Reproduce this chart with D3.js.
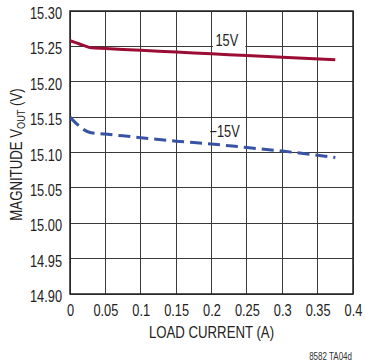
<!DOCTYPE html>
<html>
<head>
<meta charset="utf-8">
<script src="https://cdn.jsdelivr.net/npm/d3@7"></script>
<style>
  html, body { margin: 0; padding: 0; background: #fff; }
  svg { display: block; font-family: "Liberation Sans", Arial, sans-serif; }
  .cond { transform-box: fill-box; }
</style>
</head>
<body>
<svg id="chart" width="365" height="362"></svg>
<script>
// ---- data ----
const xTicks = [0, 0.05, 0.1, 0.15, 0.2, 0.25, 0.3, 0.35, 0.4];
const xTickLabels = ["0", "0.05", "0.1", "0.15", "0.2", "0.25", "0.3", "0.35", "0.4"];
const yTicks = [14.90, 14.95, 15.00, 15.05, 15.10, 15.15, 15.20, 15.25, 15.30];
const yTickLabels = ["14.90", "14.95", "15.00", "15.05", "15.10", "15.15", "15.20", "15.25", "15.30"];

const posCurrent = [0, 0.01, 0.02, 0.03, 0.05, 0.1, 0.15, 0.2, 0.25, 0.3, 0.375];
const posVout    = [15.258, 15.2545, 15.251, 15.248, 15.247, 15.2445, 15.242, 15.2395, 15.237, 15.2345, 15.231];

const negCurrent = [0, 0.01, 0.02, 0.03, 0.05, 0.1, 0.15, 0.2, 0.25, 0.3, 0.375];
const negVout    = [15.150, 15.140, 15.132, 15.128, 15.126, 15.121, 15.116, 15.112, 15.107, 15.102, 15.093];

const seriesLabels = ["15V", "\u221215V"];

// ---- layout ----
const svg = d3.select("#chart");
const pL = 70, pR = 353, pT = 11, pB = 294;
const textColor = "#222";
const squeeze = 0.8;

function condense(sel, origin) {
  sel.classed("cond", true)
    .style("transform", `scaleX(${squeeze})`)
    .style("transform-origin", origin);
  return sel;
}

const x = d3.scaleLinear().domain([0, 0.4]).range([pL, pR]);
const y = d3.scaleLinear().domain([14.90, 15.30]).range([pB, pT]);

// grid
const grid = svg.append("g").attr("stroke", "#3a3a3a").attr("stroke-width", 1).attr("shape-rendering", "crispEdges");
xTicks.forEach(t => grid.append("line").attr("x1", x(t)).attr("x2", x(t)).attr("y1", pT).attr("y2", pB));
yTicks.forEach(t => grid.append("line").attr("x1", pL).attr("x2", pR).attr("y1", y(t)).attr("y2", y(t)));
svg.append("rect").attr("x", pL).attr("y", pT).attr("width", pR - pL).attr("height", pB - pT)
  .attr("fill", "none").attr("stroke", "#222").attr("stroke-width", 1.5);

// axes (labels only, via d3 axes)
const xAxis = d3.axisBottom(x).tickValues(xTicks).tickFormat((d, i) => xTickLabels[i]).tickSize(0).tickPadding(11);
const gx = svg.append("g").attr("transform", `translate(0,${pB})`).call(xAxis);
gx.select(".domain").remove();
gx.selectAll("text").attr("font-size", 16).attr("fill", textColor).style("font-family", "inherit");
condense(gx.selectAll("text"), "center");

const yAxis = d3.axisLeft(y).tickValues(yTicks).tickFormat((d, i) => yTickLabels[i]).tickSize(0).tickPadding(8);
const gy = svg.append("g").attr("transform", `translate(${pL},0)`).call(yAxis);
gy.select(".domain").remove();
gy.selectAll("text").attr("font-size", 16).attr("fill", textColor).attr("dy", "0.47em").style("font-family", "inherit");
condense(gy.selectAll("text"), "right center");

// label backgrounds
svg.append("rect").attr("x", x(0.2) + 1.5).attr("y", 30).attr("width", x(0.25) - x(0.2) - 3).attr("height", y(15.25) - 30 + 1)
  .attr("fill", "#fff");
svg.append("rect").attr("x", x(0.2) + 1.5).attr("y", 122).attr("width", x(0.25) - x(0.2) - 3).attr("height", 17)
  .attr("fill", "#fff");

// lines
const line = d3.line().x(d => x(d[0])).y(d => y(d[1])).curve(d3.curveMonotoneX);
svg.append("path").datum(posCurrent.map((c, i) => [c, posVout[i]]))
  .attr("d", line).attr("fill", "none").attr("stroke", "#9b0d35").attr("stroke-width", 3);
svg.append("path").datum(negCurrent.map((c, i) => [c, negVout[i]]))
  .attr("d", line).attr("fill", "none").attr("stroke", "#3853a4").attr("stroke-width", 3)
  .attr("stroke-dasharray", "12,6");

// series labels
condense(svg.append("text").attr("x", x(0.2) + 4).attr("y", 46).attr("font-size", 16).attr("fill", textColor)
  .text(seriesLabels[0]), "left center");
condense(svg.append("text").attr("x", x(0.2) - 2).attr("y", 137).attr("font-size", 16).attr("fill", textColor)
  .text(seriesLabels[1]), "left center");

// axis titles
condense(svg.append("text").attr("x", (pL + pR) / 2).attr("y", 338).attr("text-anchor", "middle")
  .attr("font-size", 16.5).attr("fill", textColor).text("LOAD CURRENT (A)"), "center");

const ytg = svg.append("g").attr("transform", `translate(22,${(pT + pB) / 2 + 2}) rotate(-90)`);
const yt = ytg.append("text").attr("text-anchor", "middle").attr("font-size", 16.5).attr("fill", textColor);
yt.append("tspan").text("MAGNITUDE V");
yt.append("tspan").attr("font-size", 11.5).attr("dy", 3).text("OUT");
yt.append("tspan").attr("dy", -3).text(" (V)");
condense(yt, "center");

// footnote
condense(svg.append("text").attr("x", 352).attr("y", 360).attr("text-anchor", "end")
  .attr("font-size", 10).attr("fill", "#333").text("8582 TA04d"), "right center");
</script>
</body>
</html>
